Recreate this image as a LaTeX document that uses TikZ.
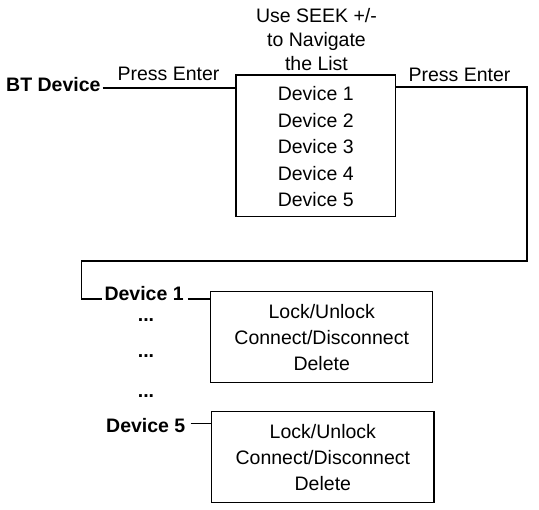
\documentclass[tikz,border=0pt]{standalone}
\usepackage{fontspec}
\setmainfont{Liberation Sans}
\begin{document}
\begin{tikzpicture}[x=1pt,y=-1pt,
  txt/.style={inner sep=0pt,anchor=base,font=\fontsize{19.5}{24}\selectfont},
  btxt/.style={txt,font=\fontsize{19.5}{24}\selectfont\bfseries},
  box/.style={draw,line width=1.2pt,inner sep=0pt},
  conn/.style={line width=1.2pt}]
\useasboundingbox (0,0) rectangle (539,510);
% boxes
\node[box,minimum width=159.5pt,minimum height=141.5pt] (list) at (315.75,145.75) {};
\node[box,minimum width=222pt,minimum height=90.6pt] (menu1) at (321.7,337) {};
\node[box,minimum width=222.3pt,minimum height=90.6pt] (menu5) at (322.85,457) {};
% header text
\node[txt] (h1) at (316.5,23) {Use SEEK +/-};
\node[txt] (h2) at (316.5,47) {to Navigate};
\node[txt] (h3) at (316.5,71) {the List};
% list items
\node[txt] (l1) at (315.75,101) {Device 1};
\node[txt] (l2) at (315.75,127.5) {Device 2};
\node[txt] (l3) at (315.75,154) {Device 3};
\node[txt] (l4) at (315.75,180.5) {Device 4};
\node[txt] (l5) at (315.75,207) {Device 5};
% labels
\node[btxt,anchor=base west] (bt) at (6,92) {BT Device};
\node[txt] (pe1) at (168.5,81) {Press Enter};
\node[txt] (pe2) at (459.5,82) {Press Enter};
\node[btxt,anchor=base west] (d1) at (104.3,300.7) {Device 1};
\node[btxt] (dots1) at (146,322) {...};
\node[btxt] (dots2) at (146,358) {...};
\node[btxt] (dots3) at (146,398) {...};
\node[btxt,anchor=base west] (d5) at (106,433) {Device 5};
% menu texts
\node[txt] (m1a) at (321.7,318.3) {Lock/Unlock};
\node[txt] (m1b) at (321.7,345) {Connect/Disconnect};
\node[txt] (m1c) at (321.7,370.5) {Delete};
\node[txt] (m5a) at (322.85,438.3) {Lock/Unlock};
\node[txt] (m5b) at (322.85,465) {Connect/Disconnect};
\node[txt] (m5c) at (322.85,490.5) {Delete};
% connectors
\coordinate (r1) at (527,87);
\coordinate (r2) at (527,261);
\coordinate (r3) at (81.7,261);
\coordinate (r4) at (81.7,299);
\draw[conn] ([xshift=2pt]bt.east |- 0,88) -- (list.west |- 0,88);
\draw[conn] (list.east |- r1) -- (r1) -- (r2) -- (r3) -- (r4) -- ([xshift=-2pt]d1.west |- r4);
\draw[conn] ([xshift=4pt]d1.east |- 0,299) -- (menu1.west |- 0,299);
\draw[conn] ([xshift=5pt]d5.east |- 0,423.3) -- (menu5.west |- 0,423.3);
\end{tikzpicture}
\end{document}
